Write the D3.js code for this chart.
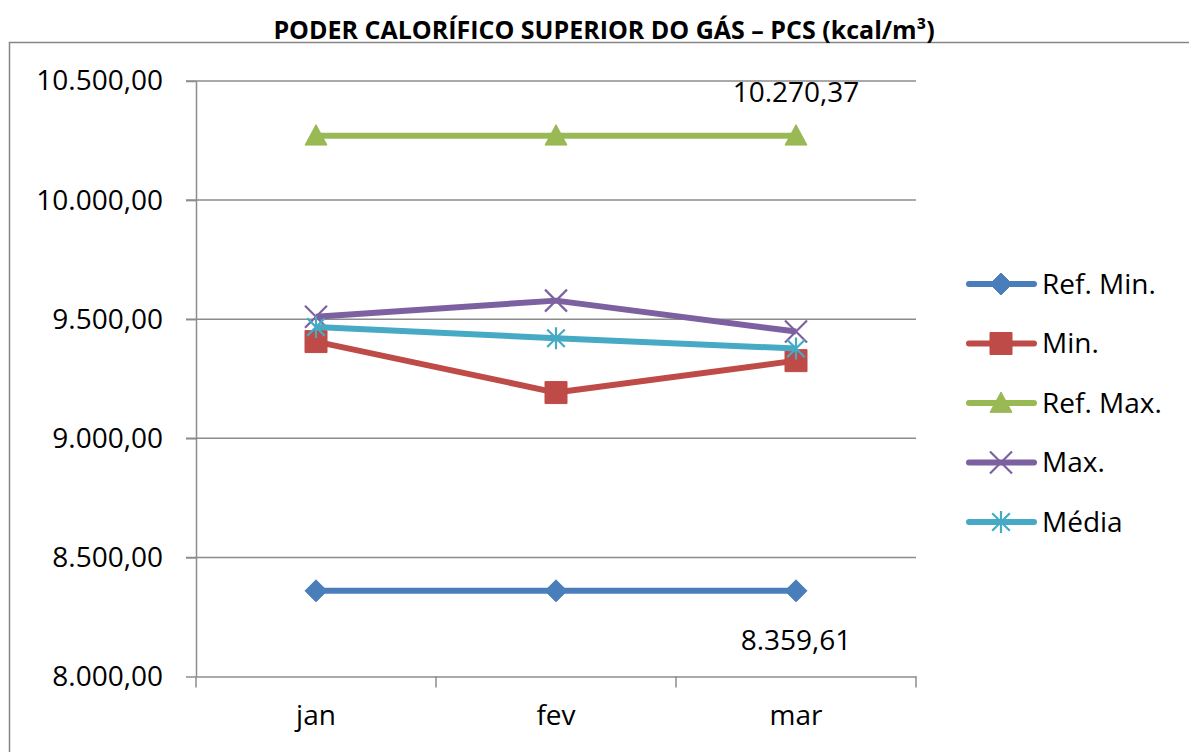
<!DOCTYPE html>
<html>
<head>
<meta charset="utf-8">
<script src="https://cdn.jsdelivr.net/npm/d3@7"></script>
<style>
  body { margin: 0; background: #fff; }
  svg { display: block; font-family: "Open Sans", "Noto Sans", sans-serif; }
</style>
</head>
<body>
<div id="chart-area"></div>
<script>
// data
const months = ["jan", "fev", "mar"]
const refMinValues = [8359.61, 8359.61, 8359.61]
const minValues = [9406, 9192, 9326]
const refMaxValues = [10270.37, 10270.37, 10270.37]
const maxValues = [9510, 9578, 9448]
const mediaValues = [9467, 9420, 9377]
const yTicks = [8000, 8500, 9000, 9500, 10000, 10500]
const seriesNames = ["Ref. Min.", "Min.", "Ref. Max.", "Max.", "Média"]

let width = 1189
let height = 752
let fontSize = "28px"

let svg = d3.select("#chart-area").append("svg")
  .attr("width", width)
  .attr("height", height)

// outer chart border (only top and left are inside the picture)
svg.append("rect")
  .attr("x", 9.5)
  .attr("y", 42.5)
  .attr("width", 1300)
  .attr("height", 900)
  .attr("fill", "none")
  .attr("stroke", "#868686")
  .attr("stroke-width", 1.5)

svg.append("text")
  .attr("x", 604)
  .attr("y", 39)
  .attr("text-anchor", "middle")
  .style("font-size", "25px")
  .style("font-weight", "bold")
  .text("PODER CALORÍFICO SUPERIOR DO GÁS – PCS (kcal/m³)")

let locale = d3.formatLocale({ decimal: ",", thousands: ".", grouping: [3], currency: ["R$", ""] })
let fmt = locale.format(",.2f")

let x = d3.scaleBand()
  .domain(months)
  .range([196, 916])
  .paddingInner(0)
  .paddingOuter(0)

let y = d3.scaleLinear()
  .domain([8000, 10500])
  .range([676.5, 81])

let cx = (m) => x(m) + x.bandwidth() / 2

// gridlines
svg.append("g")
  .selectAll("line")
  .data(yTicks.slice(1))
  .enter().append("line")
    .attr("x1", 186)
    .attr("x2", 916)
    .attr("y1", (d) => y(d))
    .attr("y2", (d) => y(d))
    .attr("stroke", "#8c8c8c")
    .attr("stroke-width", 1.5)

// y axis
let yAxisGroup = svg.append("g")
  .attr("transform", "translate(196,0)")
  .call(d3.axisLeft(y).tickValues(yTicks).tickFormat(fmt).tickSize(10).tickSizeOuter(0).tickPadding(23))
yAxisGroup.select(".domain").attr("stroke", "#8c8c8c").attr("stroke-width", 1.5)
yAxisGroup.selectAll(".tick line").attr("stroke", "#8c8c8c").attr("stroke-width", 1.5)
yAxisGroup.selectAll(".tick text")
  .style("font-size", fontSize)
  .style("font-family", "'Open Sans', sans-serif")
  .attr("fill", "#000")

// x axis
let xAxisGroup = svg.append("g")
  .attr("transform", "translate(0,676.5)")
  .call(d3.axisBottom(x).tickSize(0).tickSizeOuter(0).tickPadding(29))
xAxisGroup.select(".domain").attr("stroke", "#8c8c8c").attr("stroke-width", 1.5)
xAxisGroup.selectAll(".tick text")
  .style("font-size", fontSize)
  .style("font-family", "'Open Sans', sans-serif")
  .attr("fill", "#000")
xAxisGroup.selectAll(".bound")
  .data([0, 1, 2, 3])
  .enter().append("line")
    .attr("x1", (i) => 196 + i * x.bandwidth())
    .attr("x2", (i) => 196 + i * x.bandwidth())
    .attr("y1", 0)
    .attr("y2", 11)
    .attr("stroke", "#8c8c8c")
    .attr("stroke-width", 1.5)

// marker shapes
const markers = {
  diamond: (r) => `M0,${-r}L${r},0L0,${r}L${-r},0Z`,
  square: (r) => `M${-r},${-r}H${r}V${r}H${-r}Z`,
  triangle: (r) => `M0,${-r}L${r},${r * 0.85}L${-r},${r * 0.85}Z`,
  cross: (r) => `M${-r},${-r}L${r},${r}M${-r},${r}L${r},${-r}`,
  star: (r) => `M${-r * 0.8},${-r * 0.8}L${r * 0.8},${r * 0.8}M${-r * 0.8},${r * 0.8}L${r * 0.8},${-r * 0.8}M0,${-r}V${r}`
}

let series = [
  { name: seriesNames[0], values: refMinValues, color: "#4A7EBB", marker: "diamond", filled: true },
  { name: seriesNames[1], values: minValues, color: "#BE4B48", marker: "square", filled: true },
  { name: seriesNames[2], values: refMaxValues, color: "#98B954", marker: "triangle", filled: true },
  { name: seriesNames[3], values: maxValues, color: "#7D60A0", marker: "cross", filled: false },
  { name: seriesNames[4], values: mediaValues, color: "#46AAC5", marker: "star", filled: false }
]

let line = d3.line()
  .x((d, i) => cx(months[i]))
  .y((d) => y(d))

const drawMarker = (g, s, r) => {
  g.append("path")
    .attr("d", markers[s.marker](r))
    .attr("fill", s.filled ? s.color : "none")
    .attr("stroke", s.color)
    .attr("stroke-width", s.filled ? 1 : 2.2)
}

series.forEach((s) => {
  let g = svg.append("g")
  g.append("path")
    .attr("d", line(s.values))
    .attr("fill", "none")
    .attr("stroke", s.color)
    .attr("stroke-width", 6)
    .attr("stroke-linejoin", "round")
  s.values.forEach((v, i) => {
    let mg = g.append("g").attr("transform", "translate(" + cx(months[i]) + "," + y(v) + ")")
    drawMarker(mg, s, 11)
  })
})

// data labels on the last point of the reference lines
svg.append("text")
  .attr("x", cx("mar"))
  .attr("y", y(refMaxValues[2]) - 34)
  .attr("text-anchor", "middle")
  .style("font-size", fontSize)
  .text(fmt(refMaxValues[2]))

svg.append("text")
  .attr("x", cx("mar"))
  .attr("y", y(refMinValues[2]) + 59)
  .attr("text-anchor", "middle")
  .style("font-size", fontSize)
  .text(fmt(refMinValues[2]))

// legend
let legend = svg.append("g")
series.forEach((s, i) => {
  let ly = 284 + i * 59.5
  let lg = legend.append("g").attr("transform", "translate(0," + ly + ")")
  lg.append("line")
    .attr("x1", 969)
    .attr("x2", 1034)
    .attr("stroke", s.color)
    .attr("stroke-width", 6)
    .attr("stroke-linecap", "round")
  let mg = lg.append("g").attr("transform", "translate(1001,0)")
  drawMarker(mg, s, 11)
  lg.append("text")
    .attr("x", 1042)
    .attr("y", 0)
    .attr("dy", "0.35em")
    .style("font-size", fontSize)
    .text(s.name)
})
</script>
</body>
</html>
